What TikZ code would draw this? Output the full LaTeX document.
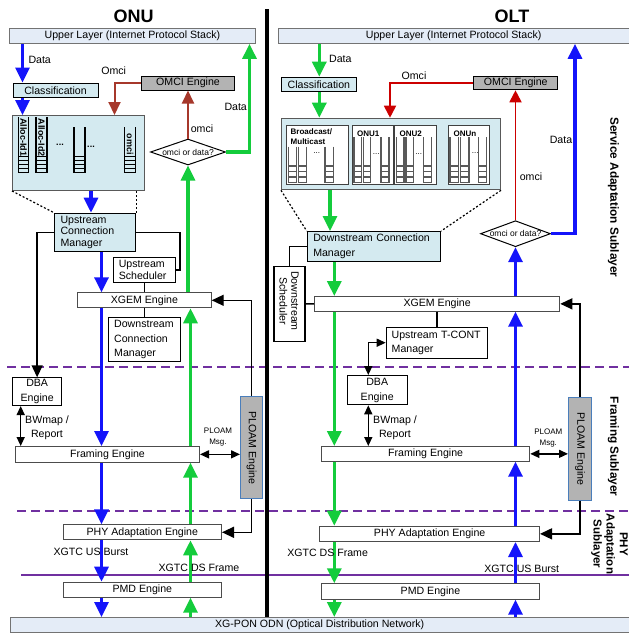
\documentclass[tikz,border=0pt]{standalone}
\usepackage{fontspec}
\setmainfont{Liberation Sans}
\usetikzlibrary{arrows.meta,shapes.geometric,calc}

\definecolor{blueA}{RGB}{20,20,250}
\definecolor{greenA}{RGB}{20,204,60}
\definecolor{redA}{RGB}{166,56,43}
\definecolor{redB}{RGB}{204,0,0}
\definecolor{cyanF}{RGB}{212,234,240}
\definecolor{ulF}{RGB}{228,236,247}
\definecolor{grayF}{RGB}{179,179,179}
\definecolor{ploamB}{RGB}{74,126,187}
\definecolor{purp}{RGB}{112,48,160}

\newcommand\fs{\fontsize{10.6}{12}\selectfont}
\newcommand\mybox[7]{\node[#6, minimum width={(#4-#2)*1pt}, minimum height={(#5-#3)*1pt}, anchor=north west] (#1) at (#2,#3) {#7};}
\newcommand\qu[7]{%
  \draw[#7] (#1,#3) -- (#1,#4) (#2,#3) -- (#2,#4);
  \foreach \i in {1,...,#5}{\draw[#7] (#1,{#4-\i*#6}) rectangle (#2,{#4-(\i-1)*#6});}
}

\begin{document}
\begin{tikzpicture}[x=1pt,y=-1pt,
  bx/.style={draw, inner sep=0pt, font=\fs, line width=0.9pt},
  ulbox/.style={bx, fill=ulF, draw=black!55},
  cybox/.style={bx, fill=cyanF, draw=black, line width=1.1pt},
  wbox/.style={bx, fill=white, draw=black!70, line width=1pt},
  gbox/.style={bx, fill=grayF, draw=black, line width=1pt},
  pbox/.style={bx, fill=grayF, draw=ploamB, line width=1pt},
  qbox/.style={bx, fill=cyanF, draw=black!65, line width=1pt},
  sbox/.style={bx, fill=white, draw=black!75, line width=1.1pt},
  barr/.style={draw=blueA, line width=3.2pt, -{Triangle[width=14pt,length=15pt]}},
  garr/.style={draw=greenA, line width=3.2pt, -{Triangle[width=14pt,length=15pt]}},
  rarrA/.style={draw=redA, line width=2pt, -{Triangle[width=12pt,length=13pt]}},
  rarrB/.style={draw=redB, line width=1.8pt, -{Triangle[width=12pt,length=12pt]}},
  karr/.style={draw=black, line width=1.4pt, -{Triangle[width=11pt,length=12pt]}},
  kline/.style={draw=black, line width=1.4pt},
  dbl/.style={draw=black, line width=1.4pt, {Triangle[width=8pt,length=9pt]}-{Triangle[width=8pt,length=9pt]}},
  dotl/.style={draw=black, line width=1.2pt, dash pattern=on 2pt off 2pt},
  lab/.style={font=\fs, inner sep=0pt, align=center},
  smalllab/.style={font=\fontsize{8}{11}\selectfont, inner sep=0pt, align=center},
  sublab/.style={font=\bfseries\fontsize{11.8}{14}\selectfont, rotate=-90, align=center, inner sep=0pt},
  qtext/.style={rotate=-90, font=\bfseries\fontsize{9}{10}\selectfont, inner sep=0pt},
  qlab/.style={font=\bfseries\fontsize{8}{9.6}\selectfont, inner sep=0pt, align=left},
  qwallA/.style={draw=black, line width=1.1pt},
  qwallB/.style={draw=black!65, line width=1.2pt},
  sepl/.style={draw=purp, line width=1.4pt},
  titlef/.style={font=\bfseries\fontsize{18}{18}\selectfont, inner sep=0pt}
]
\useasboundingbox (0,0) rectangle (629,633);
\fill[white] (0,0) rectangle (629,633);

% sublayer separators
\draw[sepl, dash pattern=on 9pt off 5pt] (7,367) -- (629,367);
\draw[sepl, dash pattern=on 9pt off 5pt] (17,511) -- (629,511);
\draw[sepl] (21,575) -- (629,575);

% divider
\coordinate (dvt) at (267,9);
\coordinate (dvb) at (267,617);
\draw[line width=3.5pt] (dvt) -- (dvb);

% titles
\node[titlef] (tonu) at (133.5,16.5) {ONU};
\node[titlef] (tolt) at (512,16.5) {OLT};

% lanes
\coordinate (bA) at (22.5,0);
\coordinate (bB) at (91,0);
\coordinate (bC) at (101.5,0);
\coordinate (gA) at (188,0);
\coordinate (gB) at (190.5,0);
\coordinate (gC) at (249.5,0);
\coordinate (rA) at (114.5,0);
\coordinate (kB) at (180,0);
\coordinate (kC) at (20.7,0);
\coordinate (hA) at (319.3,0);
\coordinate (hB) at (330,0);
\coordinate (hC) at (334.3,0);
\coordinate (cA) at (515.5,0);
\coordinate (cB) at (575,0);
\coordinate (sA) at (390,0);
\coordinate (kD) at (368.3,0);

% ===== ONU boxes =====
\mybox{ul1}{9}{28}{255}{43}{ulbox}{Upper Layer (Internet Protocol Stack)}
\mybox{cls1}{12.5}{82.5}{97.5}{97}{cybox}{Classification}
\mybox{qb1}{12}{115}{144}{190}{qbox}{}
\mybox{om1}{141}{76}{234}{89.5}{gbox}{OMCI Engine}
\node[diamond, draw, line width=1pt, fill=white, minimum width=75pt, minimum height=26pt, inner sep=0pt, font=\fontsize{8.5}{9}\selectfont] (dia1) at (188,152) {\makebox[0pt]{omci or data?}};
\mybox{ucm}{54}{212.7}{135.3}{251}{cybox, align=left, text width=69.3pt, inner xsep=6pt, font=\fontsize{10.6}{11.7}\selectfont}{Upstream\\Connection\\Manager}
\mybox{uss}{112.7}{256.7}{175.3}{282}{wbox, draw=black, align=left, text width=51.4pt, inner xsep=5.6pt, font=\fontsize{10.6}{11.7}\selectfont}{Upstream\\Scheduler}
\mybox{xg1}{77}{292.3}{210.7}{307.3}{wbox}{XGEM Engine}
\mybox{dcm1}{107.7}{317.3}{180}{361}{wbox, draw=black, align=left, text width=60.3pt, inner xsep=6pt, font=\fontsize{10.6}{14.5}\selectfont}{Downstream\\Connection\\Manager}
\mybox{dba1}{12}{377.3}{61.3}{405}{wbox, draw=black, align=center, font=\fontsize{10.6}{14.7}\selectfont}{DBA\\Engine}
\mybox{fr1}{15}{446}{199}{461.7}{wbox}{Framing Engine}
\mybox{pl1}{240}{396}{262.3}{498.3}{pbox}{}
\node[rotate=-90, font=\fs, inner sep=0pt] (pl1t) at (pl1.center) {PLOAM Engine};
\mybox{phy1}{62.7}{524.3}{221}{539.3}{wbox}{PHY Adaptation Engine}
\mybox{pmd1}{62.7}{581.7}{221}{596.7}{wbox}{PMD Engine}
\mybox{odn}{9.5}{617}{629}{632}{ulbox}{XG-PON ODN (Optical Distribution Network)}

% ONU queues
\qu{18.5}{28.5}{117}{172.5}{4}{4}{qwallA}
\qu{36}{47}{117}{172.5}{4}{4}{qwallA}
\qu{74}{85}{127}{172.5}{4}{4}{qwallA}
\qu{124.5}{135.5}{127}{172.5}{4}{4}{qwallA}
\node[qtext] (qa1) at (23.5,137) {Alloc-Id1};
\node[qtext] (qa2) at (41.5,137.5) {Alloc-Id2};
\node[qtext] (qa4) at (130,144) {omci};
\node[font=\bfseries\fontsize{9}{9}\selectfont, inner sep=0pt] (qd1) at (60,145) {...};
\node[font=\bfseries\fontsize{9}{9}\selectfont, inner sep=0pt] (qd2) at (91,146.5) {...};

% ===== OLT boxes =====
\mybox{ul2}{278}{28}{628.5}{43}{ulbox}{Upper Layer (Internet Protocol Stack)}
\mybox{cls2}{280.7}{76.7}{356}{91}{cybox}{Classification}
\mybox{qb2}{281}{117.7}{500}{189.3}{qbox}{}
\mybox{bm}{285.7}{125}{348.3}{184}{sbox}{}
\mybox{ob1}{352.3}{125}{392.7}{184}{sbox}{}
\mybox{ob2}{394.3}{125}{435.7}{184}{sbox}{}
\mybox{obn}{448.3}{125}{489}{184}{sbox}{}
\node[qlab, anchor=west] (bmt) at (290.5,136.5) {Broadcast/\\Multicast};
\node[qlab, anchor=west] (ob1t) at (357,133.3) {ONU1};
\node[qlab, anchor=west] (ob2t) at (399.5,133.3) {ONU2};
\node[qlab, anchor=west] (obnt) at (453.5,133.3) {ONUn};
% OLT queues
\qu{288.3}{296.7}{146.7}{182.5}{3}{5.5}{qwallB}
\qu{298.3}{306.7}{146.7}{182.5}{3}{5.5}{qwallB}
\qu{325}{333.3}{146.7}{182.5}{3}{5.5}{qwallB}
\qu{354}{361.7}{137}{182.5}{3}{5.5}{qwallB}
\qu{363.3}{370.7}{137}{182.5}{3}{5.5}{qwallB}
\qu{381}{389}{137}{182.5}{3}{5.5}{qwallB}
\qu{396.7}{404}{137}{182.5}{3}{5.5}{qwallB}
\qu{406}{413.3}{137}{182.5}{3}{5.5}{qwallB}
\qu{423.3}{431.7}{137}{182.5}{3}{5.5}{qwallB}
\qu{450}{458.3}{137}{182.5}{3}{5.5}{qwallB}
\qu{460.7}{469}{137}{182.5}{3}{5.5}{qwallB}
\qu{478.3}{486.7}{137}{182.5}{3}{5.5}{qwallB}
\node[smalllab] (qd3) at (316.7,153) {...};
\node[smalllab] (qd4) at (376.3,154) {...};
\node[smalllab] (qd5) at (418.8,154) {...};
\node[smalllab] (qd6) at (475.2,153) {...};

\mybox{om2}{473.3}{76}{557.3}{89.3}{gbox}{OMCI Engine}
\node[diamond, draw, line width=1pt, fill=white, minimum width=70pt, minimum height=26pt, inner sep=0pt, font=\fontsize{8.5}{9}\selectfont] (dia2) at (515.5,233.7) {\makebox[0pt]{omci or data?}};
\mybox{dcm2}{306.7}{231}{440}{261}{cybox, align=left, text width=121.3pt, inner xsep=6pt, font=\fontsize{10.6}{14.7}\selectfont}{Downstream Connection\\Manager}
\mybox{dsch}{273.3}{265.7}{304.3}{341}{wbox, draw=black, line width=1.2pt}{}
\node[rotate=-90, align=center, inner sep=0pt, font=\fontsize{10.6}{11.7}\selectfont] (dscht) at (289,301) {Downstream\\Scheduler};
\mybox{xg2}{314}{296}{559.3}{310.7}{wbox}{XGEM Engine}
\mybox{utcm}{385.7}{326.7}{487.3}{357.7}{wbox, draw=black, align=left, text width=90.6pt, inner xsep=5.5pt, font=\fontsize{10.6}{14.3}\selectfont}{Upstream T-CONT\\Manager}
\mybox{dba2}{346.7}{375}{406.7}{404.3}{wbox, draw=black, align=center, font=\fontsize{10.6}{14.7}\selectfont}{DBA\\Engine}
\mybox{fr2}{321}{446}{529.3}{460.7}{wbox}{Framing Engine}
\mybox{pl2}{568}{397.3}{591}{499.5}{pbox}{}
\node[rotate=-90, font=\fs, inner sep=0pt] (pl2t) at (pl2.center) {PLOAM Engine};
\mybox{phy2}{319.3}{525.7}{539}{541}{wbox}{PHY Adaptation Engine}
\mybox{pmd2}{321}{583.3}{539}{598.7}{wbox}{PMD Engine}

% ===== ONU connectors =====
\draw[barr] (ul1.south -| bA) -- (cls1.north -| bA);
\draw[barr] (cls1.south -| bA) -- (qb1.north -| bA);
\draw[barr] (qb1.south -| bB) -- (ucm.north -| bB);
\draw[barr] (ucm.south -| bC) -- (xg1.north -| bC);
\draw[barr] (xg1.south -| bC) -- (fr1.north -| bC);
\draw[barr] (fr1.south -| bC) -- (phy1.north -| bC);
\draw[barr] (phy1.south -| bC) -- (pmd1.north -| bC);
\draw[barr] (pmd1.south -| bC) -- (odn.north -| bC);

\draw[garr] (odn.north -| gB) -- (pmd1.south -| gB);
\draw[garr] (pmd1.north -| gB) -- (phy1.south -| gB);
\draw[garr] (phy1.north -| gB) -- (fr1.south -| gB);
\draw[garr] (fr1.north -| gB) -- (xg1.south -| gB);
\draw[garr] (xg1.north -| gA) -- (dia1.south);
\draw[garr] (dia1.east) -| (ul1.south -| gC);

\draw[rarrA] (om1.west) -| (qb1.north -| rA);
\draw[rarrA] (dia1.north) -- (om1.south -| dia1.north);

\draw[karr] (ucm.west) -| (dba1.north);
\draw[kline] (ucm.east) -| (uss.east -| kB) -- (uss.east);
\draw[kline] (uss.south) -- (uss.south |- xg1.north);
\draw[kline] (xg1.south -| dcm1.north) -- (dcm1.north);
\draw[karr] (pl1.north) |- (xg1.east);
\draw[karr] (pl1.south) |- (phy1.east);
\draw[dbl] (dba1.south -| kC) -- (fr1.north -| kC);
\draw[dbl] (fr1.east) -- (fr1.east -| pl1.west);
\draw[dotl] (qb1.south west) -- (ucm.north west);
\draw[dotl] (qb1.south -| ucm.north east) -- (ucm.north east);

% ===== OLT connectors =====
\draw[garr] (ul2.south -| hA) -- (cls2.north -| hA);
\draw[garr] (cls2.south -| hA) -- (qb2.north -| hA);
\draw[garr] (qb2.south -| hB) -- (dcm2.north -| hB);
\draw[garr] (dcm2.south -| hC) -- (xg2.north -| hC);
\draw[garr] (xg2.south -| hC) -- (fr2.north -| hC);
\draw[garr] (fr2.south -| hC) -- (phy2.north -| hC);
\draw[garr] (phy2.south -| hC) -- (pmd2.north -| hC);
\draw[garr] (pmd2.south -| hC) -- (odn.north -| hC);

\draw[barr] (odn.north -| cA) -- (pmd2.south -| cA);
\draw[barr] (pmd2.north -| cA) -- (phy2.south -| cA);
\draw[barr] (phy2.north -| cA) -- (fr2.south -| cA);
\draw[barr] (fr2.north -| cA) -- (xg2.south -| cA);
\draw[barr] (xg2.north -| cA) -- (dia2.south);
\draw[barr] (dia2.east) -| (ul2.south -| cB);

\draw[rarrB] (om2.west) -| (qb2.north -| sA);
\draw[rarrB] (dia2.north) -- (om2.south -| dia2.north);

\draw[kline] (dcm2.west) -| (dsch.north);
\draw[kline] (dsch.east) -- (xg2.west);
\draw[kline] (xg2.south -| utcm.north) -- (utcm.north);
\draw[dbl] (dba2.north -| kD) |- (utcm.west);
\draw[dbl] (dba2.south -| kD) -- (fr2.north -| kD);
\draw[dbl] (fr2.east) -- (fr2.east -| pl2.west);
\draw[karr] (pl2.north) |- (xg2.east);
\draw[karr] (pl2.south) |- (phy2.east);
\draw[dotl] (qb2.south west) -- (dcm2.north west);
\draw[dotl] (qb2.south east) -- (dcm2.north east);

% ===== labels =====
\node[lab] (l1) at (39.7,60) {Data};
\node[lab] (l2) at (113.7,70.7) {Omci};
\node[lab] (l3) at (202,128.3) {omci};
\node[lab] (l4) at (235.7,107) {Data};
\node[lab, font=\fontsize{10.6}{14}\selectfont] (l5) at (47,428) {BWmap /\\Report};
\node[smalllab] (l6) at (218,437.5) {PLOAM\\Msg.};
\node[lab] (l7) at (91,552.3) {XGTC US Burst};
\node[lab] (l8) at (199,568.3) {XGTC DS Frame};

\node[lab] (m1) at (340.3,59.3) {Data};
\node[lab] (m2) at (414,75.3) {Omci};
\node[lab] (m3) at (531,176.7) {omci};
\node[lab] (m4) at (561,140) {Data};
\node[lab, font=\fontsize{10.6}{14}\selectfont] (m5) at (395,428) {BWmap /\\Report};
\node[smalllab] (m6) at (548.3,437.8) {PLOAM\\Msg.};
\node[lab] (m7) at (327.6,553.3) {XGTC DS Frame};
\node[lab] (m8) at (521.8,569) {XGTC US Burst};

\node[sublab] (s1) at (613.3,197.3) {Service Adaptation Sublayer};
\node[sublab] (s2) at (613.3,446.7) {Framing Sublayer};
\node[sublab, font=\bfseries\fontsize{11.5}{13.2}\selectfont] (s3) at (609.5,544) {PHY\\Adaptation\\Sublayer};
\end{tikzpicture}
\end{document}
